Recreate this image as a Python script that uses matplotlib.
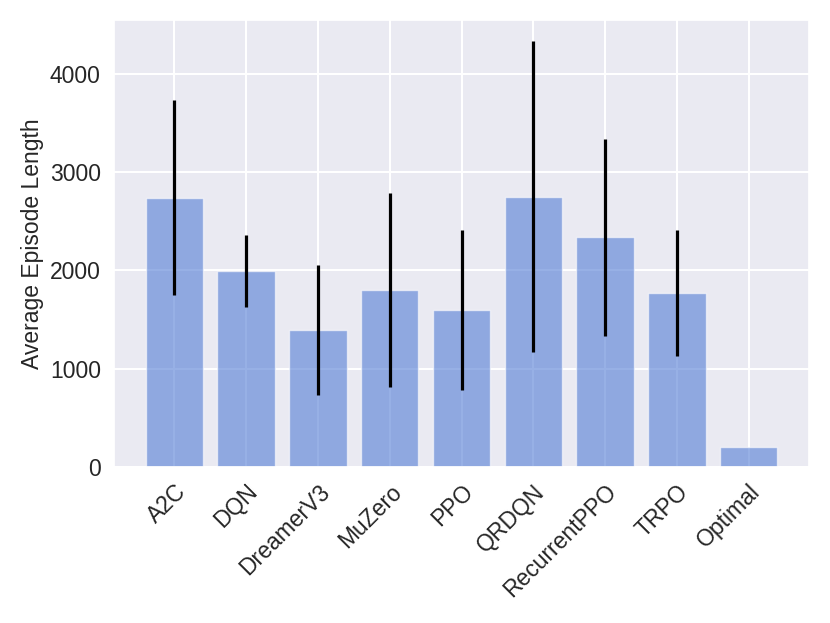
import matplotlib
matplotlib.use("Agg")
import matplotlib.pyplot as plt
import seaborn as sns

algorithms = ["A2C", "DQN", "DreamerV3", "MuZero", "PPO", "QRDQN", "RecurrentPPO", "TRPO", "Optimal"]
mean_length = [2740, 1995, 1390, 1800, 1597, 2748, 2337, 1767, 207]
std_length = [995, 365, 662, 985, 813, 1582, 1003, 642, 0]

sns.set_theme(style="darkgrid")
plt.rcParams['font.family'] = ['Liberation Sans', 'DejaVu Sans']
plt.rcParams['grid.linewidth'] = 1.5

fig = plt.figure(figsize=(8.3, 6.23), dpi=100)
ax = fig.add_axes([114/830, 1 - 467/623, (809 - 114)/830, (467 - 20)/623])
x = list(range(len(algorithms)))
ax.bar(x, mean_length, width=0.8, color=(82/255, 124/255, 212/255), alpha=0.6,
       yerr=std_length, error_kw=dict(ecolor="black", elinewidth=2.3, capsize=0))
ax.set_xticks(x)
ax.set_xticklabels(algorithms, rotation=45, ha="right", rotation_mode="anchor", fontsize=16.5)
ax.tick_params(axis="y", labelsize=16.5)
ax.set_ylabel("Average Episode Length", fontsize=16.5)
fig.savefig("out.png", dpi=100)
